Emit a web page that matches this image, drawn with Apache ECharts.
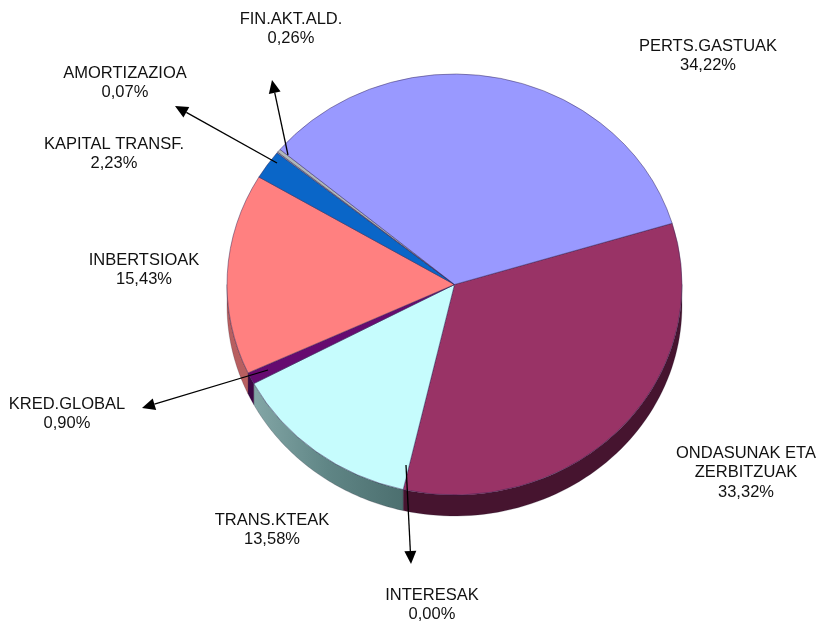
<!DOCTYPE html>
<html><head><meta charset="utf-8">
<style>html,body{margin:0;padding:0;background:#fff}#c{width:821px;height:622px}</style>
<script src="https://cdn.jsdelivr.net/npm/echarts@6/dist/echarts.min.js"></script>
</head><body><div id="c"></div>
<script>
// Data, clockwise from the PERTS/ONDASUNAK boundary
const names = ['ONDASUNAK ETA\nZERBITZUAK','INTERESAK','TRANS.KTEAK','KRED.GLOBAL','INBERTSIOAK','KAPITAL TRANSF.','AMORTIZAZIOA','FIN.AKT.ALD.','PERTS.GASTUAK'];
const values = [33.32,0.00,13.58,0.90,15.43,2.23,0.07,0.26,34.22];
// Styles
const topColors = ['#993366','#000000','#c6fcfd','#660a70','#ff8080','#0a66c8','#c0c8c8','#b0b8b8','#9999ff'];
const sideColors = ['#46142f','#000000','#5f8585','#3d0644','#b85f60','#064080','#808080','#808080','#6666aa'];
// Layout (label centre x, first-line centre y)
const CX=454.5, CY=284.5, RX=227.5, RY=210.5, DEPTH=21, START=-16.9;
const labelPos = [[746,453],[432,595],[272,520],[67,404],[144,260],[114,144],[125,73],[291,19],[708,46]];
const arrows = [[288,155,272,80],[277,163,175,106],[268,370,142,408],[406,465,411,564]];
const LINE_H=19.5;

const total = values.reduce((a,b)=>a+b,0);
const angles=[]; let acc=START;
values.forEach(v=>{const a=acc; acc+=v/total*360; angles.push([a,acc]);});
const rad=d=>d*Math.PI/180;

function sideItem(params,api){
  const i=params.dataIndex; let [a0,a1]=angles[i];
  a0=Math.max(a0,0); a1=Math.min(a1,180);
  if(a1<=a0||api.value(0)===0) return {type:'group',children:[]};
  const top=[],bot=[];
  for(let k=0;k<=60;k++){
    const t=rad(a0+(a1-a0)*k/60);
    const x=CX+RX*Math.cos(t), y=CY+RY*Math.sin(t);
    top.push([x,y]); bot.unshift([x,y+DEPTH]);
  }
  const fill = i===2 ? new echarts.graphic.LinearGradient(0,0,1,0,[{offset:0,color:'#83a6a6'},{offset:0.5,color:'#5f8585'},{offset:1,color:'#4c6f6f'}]) : sideColors[i];
  return {type:'polygon',shape:{points:top.concat(bot)},style:{fill:fill,stroke:'rgba(30,20,40,0.35)',lineWidth:0.6}};
}
function topItem(params,api){
  const i=params.dataIndex; const [a0,a1]=angles[i];
  if(api.value(0)===0) return {type:'group',children:[]};
  return {type:'sector',x:CX,y:CY,scaleX:1,scaleY:RY/RX,
    shape:{cx:0,cy:0,r0:0,r:RX,startAngle:rad(a0),endAngle:rad(a1),clockwise:true},
    style:{fill:topColors[i],stroke:'rgba(45,30,80,0.6)',lineWidth:0.8}};
}
const arrowGraphics=[];
arrows.forEach(([x1,y1,x2,y2])=>{
  const L=Math.hypot(x2-x1,y2-y1), ux=(x2-x1)/L, uy=(y2-y1)/L, h=13, w=6;
  const bx=x2-ux*h, by=y2-uy*h;
  arrowGraphics.push({type:'line',z:10,shape:{x1,y1,x2:bx,y2:by},style:{stroke:'#000',lineWidth:1.3}});
  arrowGraphics.push({type:'polygon',z:10,shape:{points:[[x2,y2],[bx-uy*w,by+ux*w],[bx+uy*w,by-ux*w]]},style:{fill:'#000'}});
});
const labelGraphics=names.map((n,i)=>{
  const lines=n.split('\n').length+1;
  return {type:'text',z:11,x:labelPos[i][0],y:labelPos[i][1]+(lines-1)*LINE_H/2,
  style:{text:n+'\n'+values[i].toFixed(2).replace('.',',')+'%',fill:'#111',
    font:'16.5px "Liberation Sans", Arial, sans-serif',lineHeight:LINE_H,textAlign:'center',textVerticalAlign:'middle'}};
});

const chart=echarts.init(document.getElementById('c'),null,{renderer:'canvas'});
chart.setOption({
  animation:false,backgroundColor:'#fff',
  series:[
    {type:'custom',coordinateSystem:'none',z:1,renderItem:sideItem,data:values.map(v=>[v]),silent:true},
    {type:'custom',coordinateSystem:'none',z:2,renderItem:topItem,data:values.map(v=>[v]),silent:true}
  ],
  graphic:arrowGraphics.concat(labelGraphics)
});
</script></body></html>
